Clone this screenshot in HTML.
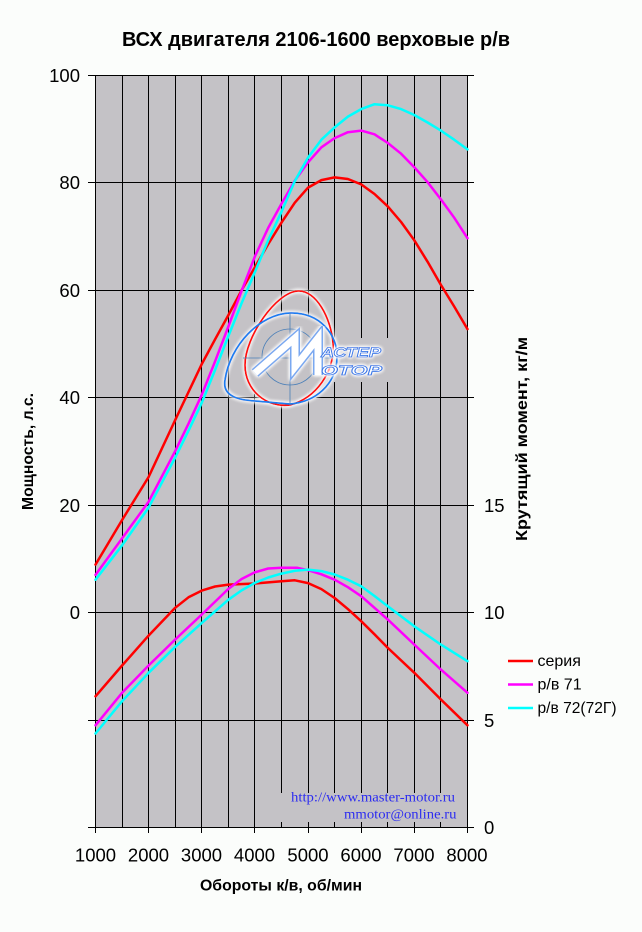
<!DOCTYPE html>
<html><head><meta charset="utf-8"><style>
html,body{margin:0;padding:0;background:#fbfdfb;}
svg{display:block;}
text{font-family:"Liberation Sans",Arial,sans-serif;}
</style></head><body>
<svg width="642" height="932" viewBox="0 0 642 932" xmlns="http://www.w3.org/2000/svg">
<defs>
<filter id="glow" x="-30%" y="-30%" width="160%" height="160%">
<feGaussianBlur in="SourceAlpha" stdDeviation="1.8" result="b"/>
<feFlood flood-color="#ffffff"/>
<feComposite in2="b" operator="in" result="g"/>
<feMerge><feMergeNode in="g"/><feMergeNode in="g"/><feMergeNode in="g"/><feMergeNode in="SourceGraphic"/></feMerge>
</filter>
</defs>
<rect x="0" y="0" width="642" height="932" fill="#fbfdfb"/>
<!-- plot area -->
<rect x="95.5" y="75.5" width="372" height="752" fill="#c4c2c6"/>
<!-- vertical gridlines -->
<g stroke="#000" stroke-width="1">
<line x1="122.5" y1="75" x2="122.5" y2="828"/>
<line x1="148.5" y1="75" x2="148.5" y2="833"/>
<line x1="175.5" y1="75" x2="175.5" y2="828"/>
<line x1="201.5" y1="75" x2="201.5" y2="833"/>
<line x1="228.5" y1="75" x2="228.5" y2="828"/>
<line x1="254.5" y1="75" x2="254.5" y2="833"/>
<line x1="281.5" y1="75" x2="281.5" y2="828"/>
<line x1="308.5" y1="75" x2="308.5" y2="833"/>
<line x1="334.5" y1="75" x2="334.5" y2="828"/>
<line x1="361.5" y1="75" x2="361.5" y2="833"/>
<line x1="387.5" y1="75" x2="387.5" y2="828"/>
<line x1="414.5" y1="75" x2="414.5" y2="833"/>
<line x1="440.5" y1="75" x2="440.5" y2="828"/>
</g>
<!-- horizontal gridlines with ticks -->
<g stroke="#000" stroke-width="1">
<line x1="88" y1="75.5" x2="474" y2="75.5"/>
<line x1="88" y1="182.5" x2="474" y2="182.5"/>
<line x1="88" y1="290.5" x2="474" y2="290.5"/>
<line x1="88" y1="397.5" x2="474" y2="397.5"/>
<line x1="88" y1="505.5" x2="474" y2="505.5"/>
<line x1="88" y1="612.5" x2="474" y2="612.5"/>
<line x1="88" y1="720.5" x2="474" y2="720.5"/>
</g>
<!-- watermark cover -->
<rect x="279" y="793" width="182" height="29" fill="#c4c2c6"/>
<text x="455" y="801.5" text-anchor="end" font-family="'Liberation Serif','Times New Roman',serif" font-size="14" fill="#2c2cf0" textLength="164" lengthAdjust="spacingAndGlyphs" style="font-family:'Liberation Serif','Times New Roman',serif">http://www.master-motor.ru</text>
<text x="456.5" y="818.5" text-anchor="end" font-size="14" fill="#2c2cf0" textLength="112.5" lengthAdjust="spacingAndGlyphs" style="font-family:'Liberation Serif','Times New Roman',serif">mmotor@online.ru</text>

<!-- logo cover -->
<ellipse cx="288" cy="358" rx="52" ry="47" fill="#c4c2c6"/>
<rect x="316" y="338" width="74" height="44" fill="#c4c2c6"/>

<!-- axes -->
<g stroke="#000" stroke-width="1">
<line x1="95.5" y1="75" x2="95.5" y2="833"/>
<line x1="467.5" y1="75" x2="467.5" y2="833"/>
<line x1="88" y1="827.5" x2="474" y2="827.5"/>
</g>

<!-- logo -->
<g filter="url(#glow)" fill="none">
<path d="M298,291 C316,290 331,318 333,343 C335,372 316,398 290,405 C266,408 245,390 245,365 C245,337 276,292 298,291 Z" stroke="#ff1010" stroke-width="1.8"/>
<path d="M225,380 C230,345 260,314 290,313 C320,312 338,335 337,358 C336,385 315,402 290,404 L255,401 C240,400 222,397 225,380 Z" stroke="#1a7df0" stroke-width="1.8"/>
</g>
<g stroke="#4a7fb8" stroke-width="0.8" fill="none">
<circle cx="290" cy="357" r="28"/>
<line x1="290" y1="313" x2="290" y2="405"/>
<line x1="243" y1="358" x2="333" y2="358"/>
</g>
<g filter="url(#glow)">
<polyline points="255,373 295,338 295,367 318,338 318,375" fill="none" stroke="#7aa8f0" stroke-width="10" stroke-linejoin="miter"/>
<polyline points="255,373 295,338 295,367 318,338 318,375" fill="none" stroke="#ffffff" stroke-width="7" stroke-linejoin="miter"/>
<text x="321" y="357" font-size="14" font-weight="bold" font-style="italic" fill="#ffffff" stroke="#3a78e8" stroke-width="0.8" textLength="60" lengthAdjust="spacingAndGlyphs">АСТЕР</text>
<text x="321" y="375" font-size="14" font-weight="bold" font-style="italic" fill="#ffffff" stroke="#3a78e8" stroke-width="0.8" textLength="61" lengthAdjust="spacingAndGlyphs">ОТОР</text>
</g>

<!-- power curves -->
<g fill="none" stroke-width="2.5" stroke-linejoin="round" stroke-linecap="round">
<polyline stroke="#ff0000" points="95.5,564.6 122.1,520.0 148.6,477.0 175.2,420.0 188.5,392.0 201.8,364.0 215.1,339.3 228.4,315.1 241.6,290.3 254.9,267.2 268.2,244.1 281.5,222.6 294.8,202.7 308.1,187.6 321.4,180.1 334.6,177.4 347.9,179.0 361.2,184.4 374.5,194.0 387.8,206.4 401.1,222.0 414.3,240.3 427.6,261.8 440.9,284.9 454.2,306.5 467.5,329.1"/>
<polyline stroke="#ff00ff" points="95.5,574.9 122.1,538.3 148.6,501.7 175.2,451.1 188.5,423.7 201.8,394.7 215.1,361.3 228.4,326.4 241.6,290.9 254.9,256.4 268.2,227.9 281.5,203.7 294.8,180.6 308.1,162.3 321.4,147.3 334.6,138.1 347.9,132.2 361.2,130.6 374.5,134.3 387.8,143.0 401.1,153.7 414.3,167.2 427.6,182.2 440.9,199.4 454.2,217.7 467.5,238.2"/>
<polyline stroke="#00ffff" points="95.5,579.7 122.1,545.3 148.6,507.6 175.2,457.6 188.5,430.7 201.8,402.7 215.1,369.9 228.4,336.0 241.6,303.2 254.9,272.0 268.2,240.3 281.5,211.8 294.8,181.1 308.1,157.5 321.4,139.7 334.6,127.4 347.9,116.6 361.2,109.1 374.5,104.2 387.8,105.3 401.1,109.1 414.3,115.0 427.6,122.5 440.9,130.6 454.2,139.7 467.5,149.4"/>
</g>
<!-- torque curves -->
<g fill="none" stroke-width="2.5" stroke-linejoin="round" stroke-linecap="round">
<polyline stroke="#ff0000" points="95.5,696.3 122.1,665.5 148.6,635.6 175.2,607.8 188.5,597.3 201.8,590.6 215.1,586.5 228.4,584.6 254.9,583.5 281.5,581.2 294.8,580.3 308.1,583.1 321.4,589.1 334.6,598.0 347.9,609.1 361.2,621.2 374.5,634.3 387.8,647.9 414.3,672.8 440.9,699.5 467.5,725.3"/>
<polyline stroke="#ff00ff" points="95.5,725.3 122.1,692.8 148.6,665.5 175.2,639.5 201.8,614.5 228.4,588.9 241.6,579.0 254.9,572.3 268.2,568.5 281.5,567.8 297.4,567.8 308.1,570.2 321.4,574.3 334.6,579.7 347.9,587.2 361.2,596.2 387.8,619.5 414.3,644.6 440.9,669.6 467.5,692.8"/>
<polyline stroke="#00ffff" points="95.5,733.5 122.1,701.2 148.6,672.8 175.2,646.8 201.8,622.9 228.4,599.7 241.6,590.4 254.9,582.9 268.2,577.5 281.5,573.6 294.8,570.8 308.1,569.6 321.4,571.1 334.6,574.5 347.9,579.7 361.2,586.3 374.5,596.0 387.8,606.3 414.3,626.3 440.9,644.6 467.5,661.2"/>
</g>

<!-- title -->
<text x="316" y="46" text-anchor="middle" font-size="20" font-weight="bold" fill="#000" textLength="388" lengthAdjust="spacingAndGlyphs">ВСХ двигателя 2106-1600 верховые р/в</text>

<!-- left tick labels -->
<g font-size="18.5" fill="#000" text-anchor="end">
<text x="80" y="82">100</text>
<text x="80" y="189">80</text>
<text x="80" y="297">60</text>
<text x="80" y="404">40</text>
<text x="80" y="512">20</text>
<text x="80" y="619">0</text>
</g>
<!-- right tick labels -->
<g font-size="18.5" fill="#000">
<text x="484" y="512">15</text>
<text x="484" y="619">10</text>
<text x="484" y="727">5</text>
<text x="484" y="834">0</text>
</g>
<!-- x tick labels -->
<g font-size="18.5" fill="#000" text-anchor="middle">
<text x="95.5" y="861.5">1000</text>
<text x="148.5" y="861.5">2000</text>
<text x="201.5" y="861.5">3000</text>
<text x="254.5" y="861.5">4000</text>
<text x="308" y="861.5">5000</text>
<text x="361" y="861.5">6000</text>
<text x="414" y="861.5">7000</text>
<text x="467" y="861.5">8000</text>
</g>

<!-- axis titles -->
<text x="281" y="890.5" text-anchor="middle" font-size="16" font-weight="bold" fill="#000" textLength="162" lengthAdjust="spacingAndGlyphs">Обороты к/в, об/мин</text>
<text transform="translate(33,451.5) rotate(-90)" text-anchor="middle" font-size="16" font-weight="bold" fill="#000" textLength="117" lengthAdjust="spacingAndGlyphs">Мощность, л.с.</text>
<text transform="translate(527,439) rotate(-90)" text-anchor="middle" font-size="16" font-weight="bold" fill="#000" textLength="204" lengthAdjust="spacingAndGlyphs">Крутящий момент, кг/м</text>

<!-- legend -->
<g stroke-width="2.5">
<line x1="508" y1="661" x2="533" y2="661" stroke="#ff0000"/>
<line x1="508" y1="684.5" x2="533" y2="684.5" stroke="#ff00ff"/>
<line x1="508" y1="708" x2="533" y2="708" stroke="#00ffff"/>
</g>
<g font-size="16" fill="#000">
<text x="537.5" y="666">серия</text>
<text x="537.5" y="689.5">р/в 71</text>
<text x="537.5" y="713" textLength="79" lengthAdjust="spacingAndGlyphs">р/в 72(72Г)</text>
</g>
</svg>
</body></html>
